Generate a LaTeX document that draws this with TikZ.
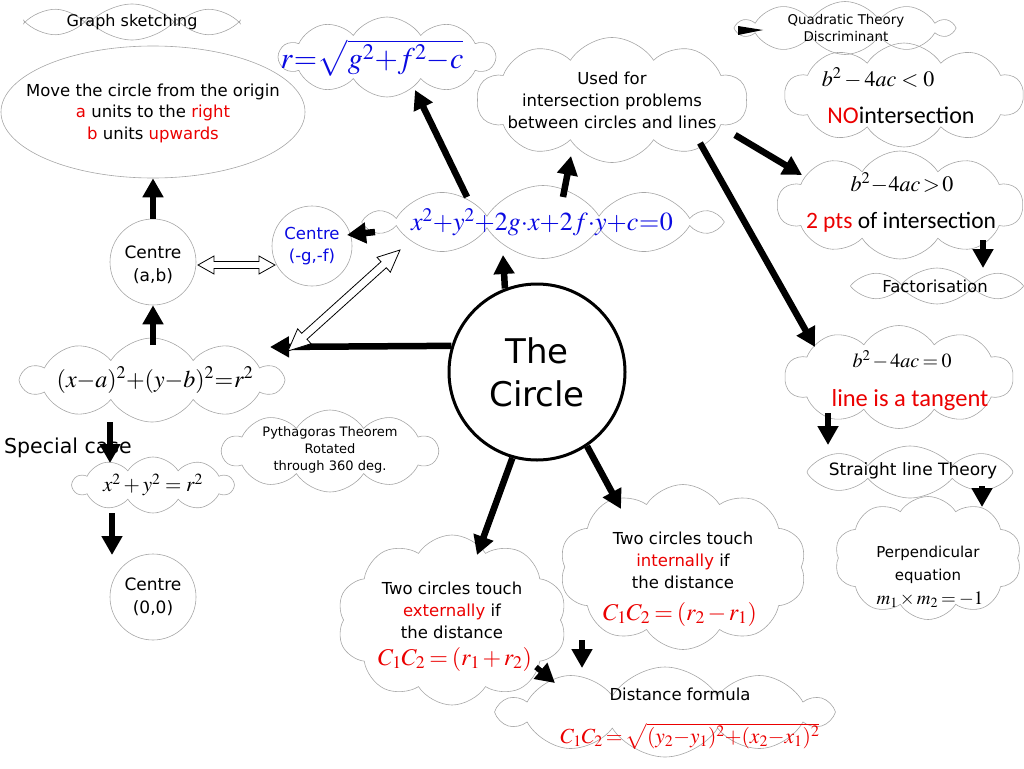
\documentclass[tikz,border=0pt]{standalone}
\usepackage{mathptmx}
\usepackage[no-math]{fontspec}
\setmainfont{DejaVu Sans}
\newfontfamily\twfont{Carlito}
\usetikzlibrary{shapes.symbols,shapes.geometric,arrows.meta,calc}
\definecolor{myred}{RGB}{235,0,0}
\definecolor{myblue}{RGB}{10,10,225}
\newcommand\fs[2]{\fontsize{#1}{#2}\selectfont}
\newcommand\tight{\medmuskip=0mu\thickmuskip=0.5mu\relax}
\newcommand\semitight{\medmuskip=2mu\thickmuskip=3mu\relax}
\newcommand\hollowarrow[5]{%
 \draw[fill=white, line width=0.8pt, line join=miter]
 (#1) -- ($(#1)!#3!(#2)!#4!90:(#2)$) -- ($(#1)!#3!(#2)!#5!90:(#2)$)
 -- ($(#2)!#3!(#1)!#5!-90:(#1)$) -- ($(#2)!#3!(#1)!#4!-90:(#1)$) -- (#2)
 -- ($(#2)!#3!(#1)!#4!90:(#1)$) -- ($(#2)!#3!(#1)!#5!90:(#1)$)
 -- ($(#1)!#3!(#2)!#5!-90:(#2)$) -- ($(#1)!#3!(#2)!#4!-90:(#2)$) -- cycle;}
\tikzset{
 cl/.style={cloud, draw=black!35, line width=0.6pt, cloud puffs=10, cloud puff arc=115, cloud ignores aspect, inner sep=0pt},
 thin cloud/.style={cl, cloud puffs=8, cloud puff arc=100},
 ring/.style={circle, draw=black!35, line width=0.6pt, inner sep=0pt},
 txt/.style={align=center, inner sep=0pt},
 big/.style={line width=6.5pt, -{Triangle[length=19pt,width=20pt]}},
}
\begin{document}
\begin{tikzpicture}[x=1pt,y=-1pt]
\useasboundingbox (0,0) rectangle (1024,768);
% ---------- left column
\node[thin cloud, minimum width=215pt, minimum height=36pt] (gs) at (132,22) {};
\node[txt, font={\fs{16}{18}}] (gst) at (gs) {Graph sketching};
\node[ellipse, draw=black!35, line width=0.6pt, minimum width=304pt, minimum height=132pt] (mv) at (153,112) {};
\node[txt, font={\fs{16.5}{21.5}}] (mvt) at (153,113) {Move the circle from the origin\\\textcolor{myred}{a} units to the \textcolor{myred}{right}\\\textcolor{myred}{b} units \textcolor{myred}{upwards}};
\node[ring, minimum size=86pt] (cab) at (153,262) {};
\node[txt, font={\fs{17}{23}}] (cabt) at (153,265) {Centre\\(a,b)};
\node[ring, minimum size=80pt] (cgf) at (312,246) {};
\node[txt, font={\fs{16.5}{22}}, text=myblue] (cgft) at (312,246) {Centre\\(-g,-f)};
\node[cl, minimum width=260pt, minimum height=84pt] (xab) at (152,380) {};
\node[txt, font={\fs{24}{30}\tight}] (xabt) at (155,380) {$(x-a)^2+(y-b)^2=r^2$};
\node[txt, font={\fs{20.5}{22}}, anchor=west] (sc) at (4,448) {Special case};
\node[cl, minimum width=160pt, minimum height=56pt] (xy) at (153,485) {};
\node[txt, font={\fs{21}{22}}] (xyt) at (153,485) {$x^2+y^2=r^2$};
\node[ring, minimum size=86pt] (c00) at (153,597) {};
\node[txt, font={\fs{17}{23}}] (c00t) at (153,597) {Centre\\(0,0)};
\node[cl, minimum width=215pt, minimum height=82pt] (py) at (330,451) {};
\node[txt, font={\fs{13}{17}}] (pyt) at (330,450) {Pythagoras Theorem\\Rotated\\through 360 deg.};
% ---------- top middle
\node[cl, minimum width=215pt, minimum height=80pt] (rc) at (387,57) {};
\node[txt, font={\fs{30}{32}\tight}, text=myblue] (rct) at (372,58) {$r=\sqrt{g^2+f^2-c}$};
\node[cl, minimum width=270pt, minimum height=125pt] (uf) at (612,100) {};
\node[txt, font={\fs{16.5}{22}}] (uft) at (612,100) {Used for\\intersection problems\\between circles and lines};
\node[cl, minimum width=347pt, minimum height=73pt] (eq) at (543,222) {};
\node[txt, font={\fs{26}{32}\tight}, text=myblue] (eqt) at (542,222) {$x^2+y^2+2g\cdot x+2f\cdot y+c=0$};
% ---------- centre
\node[circle, draw=black, line width=3pt, minimum size=176pt, inner sep=0pt] (tc) at (537,372) {};
\node[txt, font={\fs{34}{43}}] (tct) at (537,372) {The\\Circle};
% ---------- bottom
\node[cl, minimum width=230pt, minimum height=170pt] (ext) at (452,620) {};
\node[txt, font={\fs{16.5}{22}}] (extt) at (452,610) {Two circles touch\\\textcolor{myred}{externally} if\\the distance};
\node[txt, font={\fs{24}{24}\semitight}, text=myred] (extf) at (455,659) {$C_1C_2=(r_1+r_2)$};
\node[cl, minimum width=247pt, minimum height=165pt] (int) at (683,567) {};
\node[txt, font={\fs{16.5}{22}}] (intt) at (683,560) {Two circles touch\\\textcolor{myred}{internally} if\\the distance};
\node[txt, font={\fs{24}{24}\semitight}, text=myred] (intf) at (680,614) {$C_1C_2=(r_2-r_1)$};
\node[cl, minimum width=330pt, minimum height=90pt] (dist) at (665,712) {};
\node[txt, font={\fs{16.5}{18}}] (distt) at (680,694) {Distance formula};
\node[txt, font={\fs{21.5}{25}\medmuskip=0mu\thickmuskip=2.5mu\relax}, text=myred] (distf) at (690,736) {$C_1C_2=\sqrt{(y_2-y_1)^2+(x_2-x_1)^2}$};
% ---------- right column
\node[cl, minimum width=214pt, minimum height=53pt] (quad) at (845,28) {};
\node[txt, font={\fs{13.4}{17}}] (quadt) at (846,28) {Quadratic Theory\\Discriminant};
\node[cl, minimum width=238pt, minimum height=104pt] (no) at (904,95) {};
\node[txt, font={\fs{22}{24}}] (not) at (878,78) {$b^2 - 4ac<0$};
\node[txt, font={\twfont\fs{24}{26}}] (no2) at (901,115) {\textcolor{myred}{NO}intersection};
\node[cl, minimum width=245pt, minimum height=108pt] (two) at (900,205) {};
\node[txt, font={\fs{22}{24}}] (twot) at (902,183) {$b^2\!-\!4ac\!>\!0$};
\node[txt, font={\twfont\fs{23.5}{26}}] (two2) at (901,222) {\textcolor{myred}{2 pts} of intersection};
\node[thin cloud, minimum width=173pt, minimum height=36pt] (fac) at (937,286) {};
\node[txt, font={\fs{16.5}{18}}] (fact) at (935,286) {Factorisation};
\node[cl, minimum width=228pt, minimum height=103pt] (tan) at (899,377) {};
\node[txt, font={\fs{20}{24}\semitight}] (tant) at (902,360) {$b^2 - 4ac=0$};
\node[txt, font={\twfont\fs{24.5}{26}}, text=myred] (tan2) at (910,400) {line is a tangent};
\node[thin cloud, minimum width=206pt, minimum height=52pt] (sl) at (910,472) {};
\node[txt, font={\fs{17}{18}}] (slt) at (913,471) {Straight line Theory};
\node[cl, minimum width=187pt, minimum height=123pt] (perp) at (928,558) {};
\node[txt, font={\fs{15}{23}}] (perpt) at (928,565) {Perpendicular\\equation};
\node[txt, font={\fs{19}{20}\semitight}] (perpf) at (930,600) {$m_1\times m_2=-1$};
% ---------- thick arrows
\draw[big] (cab.north) -- (mv.south);
\draw[big] ([shift={(1,-35)}]xab.center) -- (cab.south);
\draw[big] ([shift={(-42,42)}]xab.center) -- ([shift={(-43,-22)}]xy.center);
\draw[big] ([shift={(-41,28)}]xy.center) -- ([shift={(-41,-42)}]c00.center);
\draw[big] (tc.163) -- ([shift={(118,-33)}]xab.center);
\draw[big] (tc.111) -- ([shift={(-40,33)}]eq.center);
\draw[big] ([shift={(-76,-25)}]eq.center) -- ([shift={(28,33)}]rc.center);
\draw[big] ([shift={(20,-25)}]eq.center) -- ([shift={(-41,56)}]uf.center);
\draw[big] ([shift={(-168,10)}]eq.center) -- ([shift={(35,-11)}]cgf.center);
\draw[big] ([shift={(123,35)}]uf.center) -- ([shift={(-98,-30)}]two.center);
\draw[big] ([shift={(88,43)}]uf.center) -- ([shift={(-84,-30)}]tan.center);
\draw[big, line width=5.5pt] ([shift={(83,35)}]two.center) -- ([shift={(46,-18)}]fac.center);
\draw[big, line width=5.5pt] ([shift={(-71,36)}]tan.center) -- ([shift={(-82,-27)}]sl.center);
\draw[big, line width=5.5pt] ([shift={(72,14)}]sl.center) -- ([shift={(54,-51)}]perp.center);
\draw[big] (tc.-106) -- ([shift={(25,-65)}]ext.center);
\draw[big] (tc.-56) -- ([shift={(-62,-58)}]int.center);
\draw[big, line width=5.5pt] ([shift={(-101,73)}]int.center) -- ([shift={(-83,-44)}]dist.center);
\draw[big, line width=5.5pt] ([shift={(84,47)}]ext.center) -- ([shift={(-110,-29)}]dist.center);
\fill ([shift={(-107,-2)}]quad.center) -- ([shift={(-107,7)}]quad.center) -- ([shift={(-82,2)}]quad.center) -- cycle;
% ---------- hollow double arrows
\coordinate (h1a) at ([shift={(45,3)}]cab.center);
\coordinate (h1b) at ([shift={(-37,19)}]cgf.center);
\hollowarrow{h1a}{h1b}{16pt}{9pt}{3.5pt}
\coordinate (h2a) at ([shift={(136,-29)}]xab.center);
\coordinate (h2b) at ([shift={(-143,28)}]eq.center);
\hollowarrow{h2a}{h2b}{22pt}{10pt}{4pt}
\end{tikzpicture}
\end{document}
